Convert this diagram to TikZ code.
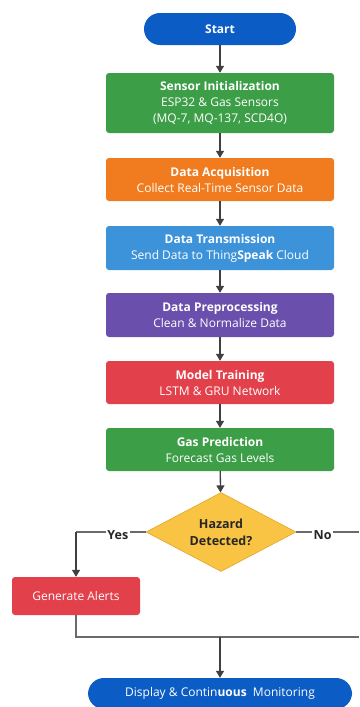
\documentclass[tikz,border=0pt]{standalone}
\usepackage{fontspec}
\setmainfont{Open Sans}
\usetikzlibrary{shapes.geometric,arrows.meta}
\definecolor{termblue}{HTML}{0B5CC5}
\definecolor{boxgreen}{HTML}{3C9E47}
\definecolor{boxorange}{HTML}{F07C1F}
\definecolor{boxblue}{HTML}{3D93DA}
\definecolor{boxpurple}{HTML}{6A4FAD}
\definecolor{boxred}{HTML}{E2404B}
\definecolor{diafill}{HTML}{F9C443}
\definecolor{diaedge}{HTML}{E0A82A}
\definecolor{arrowgray}{HTML}{404040}
\definecolor{linegray}{HTML}{6A6A6A}
\begin{document}
\begin{tikzpicture}[x=1pt,y=-1pt,
  font=\fontsize{12}{16}\selectfont,
  box/.style={rectangle, rounded corners=3pt, minimum width=228pt, text=white, align=center, inner sep=0pt, draw=none},
  term/.style={rectangle, rounded corners=16pt, text=white, align=center, inner sep=0pt, fill=termblue, font=\fontsize{12}{16}\selectfont\bfseries},
  flow/.style={draw=arrowgray, line width=1.3pt, -{Triangle[length=7pt,width=8pt]}},
  branch/.style={draw=linegray, line width=1.2pt},
  lbl/.style={fill=white, inner sep=1.5pt, text=black!85, font=\fontsize{12.5}{14}\selectfont\bfseries}]
\useasboundingbox (0,0) rectangle (359,707);
\fill[white] (0,0) rectangle (359,707);

\node[term, minimum width=152pt, minimum height=32pt] (start) at (220,29) {Start};
\node[box, fill=boxgreen, minimum height=60pt] (init) at (220,103)
  {\textbf{Sensor Initialization}\\ESP32 \& Gas Sensors\\(MQ-7, MQ-137, SCD4O)};
\node[box, fill=boxorange, minimum height=43pt] (acq) at (220,179.5)
  {\textbf{Data Acquisition}\\Collect Real-Time Sensor Data};
\node[box, fill=boxblue, minimum height=44pt] (trans) at (220,248)
  {\textbf{Data Transmission}\\Send Data to Thing\textbf{Speak} Cloud};
\node[box, fill=boxpurple, minimum height=44pt] (pre) at (220,315)
  {\textbf{Data Preprocessing}\\Clean \& Normalize Data};
\node[box, fill=boxred, minimum height=43pt] (train) at (220,382.5)
  {\textbf{Model Training}\\LSTM \& GRU Network};
\node[box, fill=boxgreen, minimum height=43pt] (pred) at (220,449.5)
  {\textbf{Gas Prediction}\\Forecast Gas Levels};
\node[diamond, fill=diafill, draw=diaedge, line width=0.6pt, minimum width=150pt, minimum height=79pt, aspect=1.9, inner sep=0pt, align=center, text=black!85, font=\fontsize{12.5}{17}\selectfont\bfseries] (haz) at (221,532)
  {Hazard\\Detected?};
\node[box, fill=boxred, minimum width=128pt, minimum height=38pt] (alert) at (76,596) {Generate Alerts};
\node[term, minimum width=264pt, minimum height=31pt, font=\fontsize{12}{16}\selectfont] (disp) at (220,693.5)
  {Display \& Contin\textbf{uous}\ \ Monitoring};

\draw[flow] (start) -- (init);
\draw[flow] (init) -- (acq);
\draw[flow] (acq) -- (trans);
\draw[flow] (trans) -- (pre);
\draw[flow] (pre) -- (train);
\draw[flow] (train) -- (pred);
\draw[flow] (pred) -- (haz);

\coordinate (ycorner) at (76,532);
\coordinate (nend) at (359,532);
\coordinate (merge) at (220,637);
\coordinate (mright) at (359,637);
\coordinate (aldown) at (76,637);

\draw[branch] (haz.west) -- node[lbl, pos=0.4, yshift=-3pt] {Yes} (ycorner);
\draw[branch, -{Triangle[length=7pt,width=8pt]}, draw=arrowgray] (ycorner) -- (alert.north);
\draw[branch] (haz.east) -- node[lbl, pos=0.42, yshift=-3pt] {No} (nend);
\draw[branch] (alert.south) -- (aldown) -- (mright);
\draw[flow] (merge) -- (disp.north);
\end{tikzpicture}
\end{document}
